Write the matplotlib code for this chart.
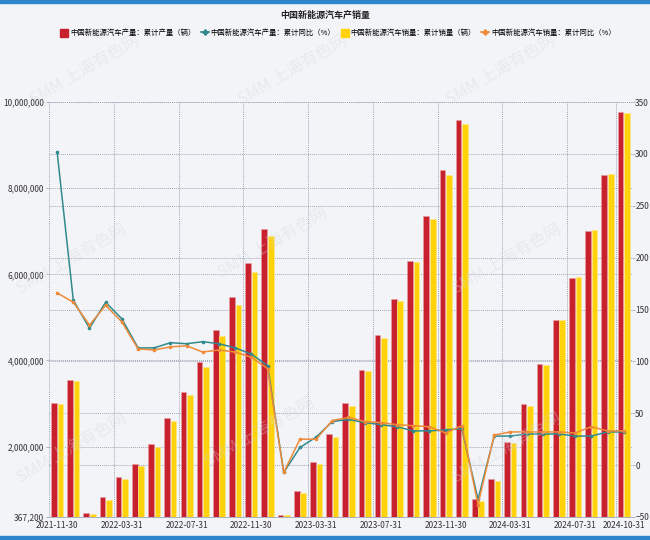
import numpy as np
import pandas as pd
import matplotlib
matplotlib.use("Agg")
import matplotlib.pyplot as plt
from matplotlib.ticker import FuncFormatter
from matplotlib.patches import Rectangle
from matplotlib.lines import Line2D

plt.rcParams['font.family'] = ['Noto Sans CJK SC', 'DejaVu Sans']

# месяцы 2021-11 .. 2024-10
months = pd.date_range("2021-11-30", "2024-10-31", freq="ME").strftime("%Y-%m-%d").tolist()

# 累计产量 / 累计销量 (辆)
prod = [3023000, 3545000, 452000, 820000, 1293000, 1605000, 2070000, 2661000, 3276000,
        3972000, 4717000, 5482000, 6253000, 7058000, 425000, 977000, 1650000, 2291000,
        3004000, 3788000, 4591000, 5433000, 6313000, 7359000, 8420000, 9587000, 787000,
        1250000, 2115000, 2985000, 3926000, 4929000, 5914000, 7009000, 8317000, 9771000]
sales = [2990000, 3521000, 431000, 766000, 1257000, 1556000, 2003000, 2600000, 3194000,
         3860000, 4567000, 5280000, 6065000, 6887000, 408000, 933000, 1586000, 2222000,
         2939000, 3747000, 4526000, 5374000, 6279000, 7280000, 8303000, 9495000, 729000,
         1207000, 2089000, 2940000, 3895000, 4944000, 5934000, 7036000, 8320000, 9750000]

# 累计同比 (%)
prod_yoy = [302, 159, 132, 157, 141, 113, 113, 118, 117, 119, 117, 113, 107, 96,
            -7, 17, 27, 42, 44, 41, 39, 37, 33, 33, 34, 35, -33, 28, 28, 30, 30, 30,
            28, 28, 32, 32]
sales_yoy = [166, 157, 135, 154, 138, 112, 111, 114, 115, 109, 111, 109, 104, 93,
             -7, 25, 25, 43, 46, 42, 41, 39, 38, 37, 31, 38, -38, 29, 32, 32, 32, 32,
             31, 37, 33, 33]

label_idx = list(range(0, 36, 4)) + [35]

RED = '#C9202D'
YEL = '#FFD20A'
TEAL = '#2F8A8E'
ORG = '#EE8A3A'
GRID = '#A4A7B8'
BG = '#F3F4F7'

fig = plt.figure(figsize=(6.5, 5.4), dpi=100, facecolor=BG)
ax = fig.add_axes([0.0754, 0.0426, 0.8966, 0.7685])
ax.set_facecolor(BG)
ax2 = ax.twinx()

x = np.arange(len(months))
w = 0.35
ax.bar(x - 0.2, prod, w, color=RED, edgecolor='#E8A0A6', linewidth=0.4, zorder=2)
ax.bar(x + 0.2, sales, w, color=YEL, edgecolor='#FFE98A', linewidth=0.4, zorder=2)

ymin, ymax = 367200, 10000000
ax.set_ylim(ymin, ymax)
ax.set_xlim(-0.5, len(months) - 0.5)
ax.set_yticks([367200, 2000000, 4000000, 6000000, 8000000, 10000000])
ax.yaxis.set_major_formatter(FuncFormatter(lambda v, p: f"{int(v):,}"))

ax2.set_ylim(-50, 350)
ax2.set_yticks(range(-50, 351, 50))

# сетка: горизонтальные линии по обеим осям, позади столбцов
dots = (0, (1.0, 1.0))
for t in [2000000, 4000000, 6000000, 8000000, 10000000]:
    ax.axhline(t, color=GRID, lw=0.7, ls=dots, zorder=0)
for r in range(-50, 351, 50):
    ax.axhline(ymin + (r + 50) / 400 * (ymax - ymin), color=GRID, lw=0.7, ls=dots, zorder=0)
for i in label_idx:
    ax.axvline(i - 0.5, color=GRID, lw=0.7, ls=dots, zorder=0)

ax2.plot(x, prod_yoy, color=TEAL, lw=1.1, marker='o', ms=1.6, zorder=3)
ax2.plot(x, sales_yoy, color=ORG, lw=1.1, marker='o', ms=1.6, zorder=3)

ax.set_xticks(label_idx)
ax.set_xticklabels([months[i] for i in label_idx])
for a in (ax, ax2):
    for s in a.spines.values():
        s.set_visible(False)
    a.tick_params(labelsize=6, colors='#333333', length=2.5, width=0.6, pad=1, color=GRID)
ax.spines['bottom'].set_visible(True)
ax.spines['bottom'].set_color('#A0A4B8')
ax.spines['bottom'].set_linewidth(0.6)
ax.tick_params(axis='x', length=0, pad=3)
ax2.tick_params(axis='y', pad=0.5, length=2)
ax2.grid(False)

# водяные знаки
wm = [(0.13, 0.87), (0.45, 0.87), (0.77, 0.87), (0.11, 0.52), (0.42, 0.55), (0.78, 0.52),
      (0.11, 0.17), (0.40, 0.20), (0.78, 0.17)]
for wx, wy in wm:
    fig.text(wx, wy, 'SMM 上海有色网', fontsize=12, color='#D4D6DD', alpha=0.35,
             rotation=30, ha='center', va='center', zorder=0)

fig.text(0.5, 0.972, '中国新能源汽车产销量', ha='center', va='center', fontsize=6.5,
         fontweight='bold', color='#222222')

handles = [Rectangle((0, 0), 1, 1, color=RED),
           Line2D([], [], color=TEAL, lw=1.2, marker='P', ms=3.5),
           Rectangle((0, 0), 1, 1, color=YEL),
           Line2D([], [], color=ORG, lw=1.2, marker='P', ms=3.5)]
labels = ['中国新能源汽车产量：累计产量（辆）', '中国新能源汽车产量：累计同比（%）',
          '中国新能源汽车销量：累计销量（辆）', '中国新能源汽车销量：累计同比（%）']
fig.legend(handles, labels, loc='center', bbox_to_anchor=(0.52, 0.938), ncol=4,
           frameon=False, fontsize=5.3, handlelength=1.1, handleheight=1.1,
           columnspacing=0.7, handletextpad=0.25)

# синие полосы по краям
fig.patches.append(Rectangle((0, 0.994), 1, 0.006, transform=fig.transFigure,
                             color='#2D86C9', zorder=5))
fig.patches.append(Rectangle((0, 0), 1, 0.007, transform=fig.transFigure,
                             color='#2D86C9', zorder=5))

fig.savefig("out.png", dpi=100, facecolor=BG)
